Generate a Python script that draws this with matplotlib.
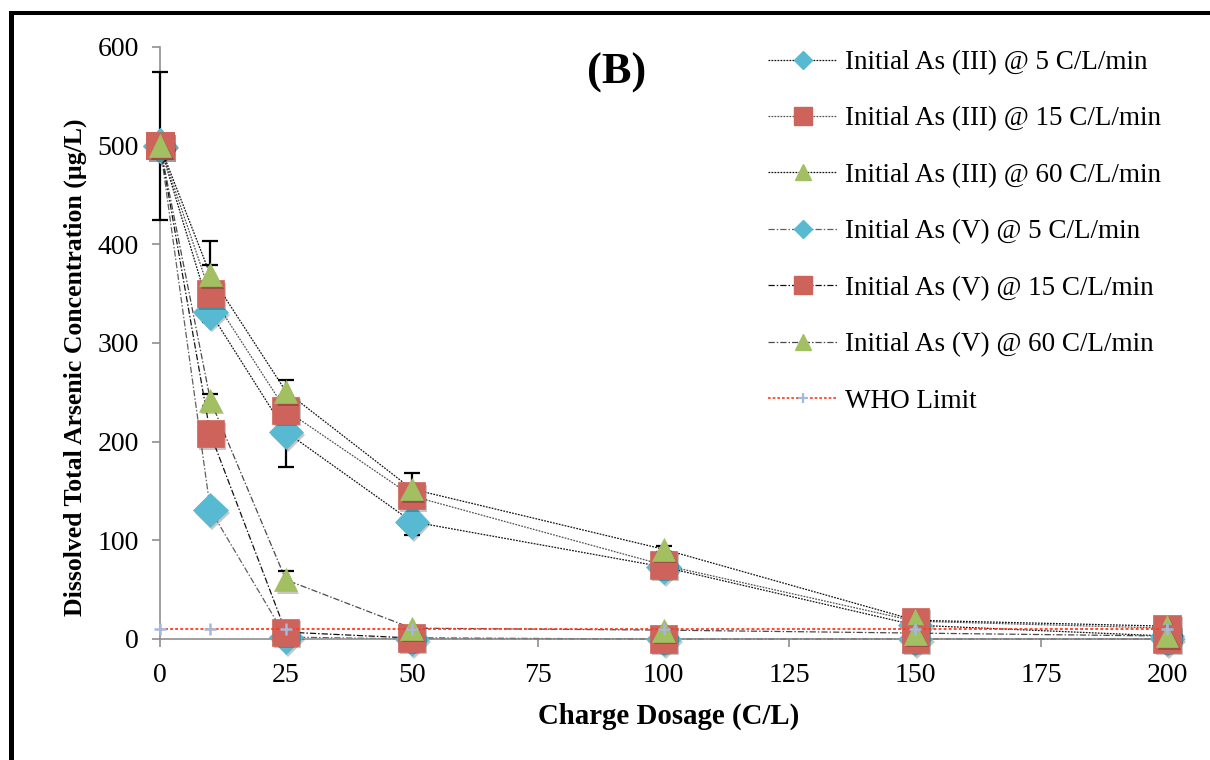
import matplotlib
matplotlib.use("Agg")
import matplotlib.pyplot as plt
from matplotlib.lines import Line2D
import matplotlib.patheffects as pe

# Charge dosage (C/L)
dosage = [0, 10, 25, 50, 100, 150, 200]

# Dissolved total arsenic (ug/L)
as3_5 = [500, 331, 210, 119, 73, 14, 3]
as3_15 = [500, 350, 232, 145, 75, 18, 11]
as3_60 = [500, 369, 251, 152, 91, 19, 13]
as5_5 = [500, 131, 2, 0, 0, 0, 0]
as5_15 = [500, 208, 7, 1, 0, 0, 0]
as5_60 = [500, 242, 60, 11, 9, 6, 3]
who_limit = [10, 10, 10, 10, 10, 10, 10]

# Standard deviations (0 = no bar shown)
err3_5 = [75, 0, 36, 14, 0, 0, 0]
err3_15 = [0, 29, 0, 0, 0, 0, 0]
err3_60 = [0, 34, 11, 16, 3, 0, 0]
err5_60 = [0, 6, 9, 0, 0, 0, 0]

labels = [
    "Initial As (III) @ 5 C/L/min",
    "Initial As (III) @ 15 C/L/min",
    "Initial As (III) @ 60 C/L/min",
    "Initial As (V) @ 5 C/L/min",
    "Initial As (V) @ 15 C/L/min",
    "Initial As (V) @ 60 C/L/min",
    "WHO Limit",
]

FONT = "Liberation Serif"
plt.rcParams["font.family"] = [FONT, "DejaVu Serif"]

BLUE = "#57b9d2"
RED = "#cd635b"
GREEN = "#a2c062"
PLUS = "#a6b8dc"

DOT = (0, (1.4, 1.0))
DASHDOT = (0, (5, 1.6, 1.2, 1.6))

series = [
    (as3_5, err3_5, "D", BLUE, 17.5, "#111111", DOT),
    (as3_15, err3_15, "s", RED, 19.5, "#505050", DOT),
    (as3_60, err3_60, "^", GREEN, 16.5, "#111111", DOT),
    (as5_5, None, "D", BLUE, 17.5, "#606060", DASHDOT),
    (as5_15, None, "s", RED, 19.5, "#111111", DASHDOT),
    (as5_60, err5_60, "^", GREEN, 16.5, "#4a4a4a", DASHDOT),
]

fig = plt.figure(figsize=(12.1, 7.6), dpi=100)
W, H = 1210.0, 760.0
ax = fig.add_axes([160 / W, 121 / H, (1167 - 160) / W, (639 - 47) / H])

shadow = [pe.SimplePatchShadow(offset=(1.5, -2.0), shadow_rgbFace="#000000", alpha=0.22), pe.Normal()]

# connecting lines
for vals, err, mk, col, ms, lcol, ls in series:
    ax.plot(dosage, vals, linestyle=ls, color=lcol, linewidth=0.9, zorder=2, clip_on=False)

# error bars
for vals, err, mk, col, ms, lcol, ls in series:
    if err is None:
        continue
    xs = [x for x, e in zip(dosage, err) if e > 0]
    ys = [v for v, e in zip(vals, err) if e > 0]
    es = [e for e in err if e > 0]
    ax.errorbar(xs, ys, yerr=es, fmt="none", ecolor="black", elinewidth=1.6,
                capsize=6, capthick=1.6, zorder=2.7, clip_on=False)

# markers
for i, (vals, err, mk, col, ms, lcol, ls) in enumerate(series):
    ax.plot(dosage, vals, linestyle="none", marker=mk, markersize=ms,
            markerfacecolor=col, markeredgecolor=col, markeredgewidth=0.5,
            zorder=3 + i * 0.1, clip_on=False, path_effects=shadow)

# WHO limit
ax.plot(dosage, who_limit, linestyle=(0, (1.6, 1.2)), color="#ff3b1f", linewidth=1.3,
        zorder=4, clip_on=False)
ax.plot(dosage, who_limit, linestyle="none", marker="+", markersize=8,
        markeredgewidth=1.8, color=PLUS, zorder=4.1, clip_on=False)

ax.set_xlim(0, 200)
ax.set_ylim(0, 600)
ax.set_xticks(range(0, 201, 25))
ax.set_yticks(range(0, 601, 100))
for s in ["top", "right"]:
    ax.spines[s].set_visible(False)
for s in ["left", "bottom"]:
    ax.spines[s].set_color("#8f8f8f")
    ax.spines[s].set_linewidth(1.2)
ax.tick_params(axis="both", direction="out", length=6, width=1.2, color="#8f8f8f",
               labelsize=20, labelcolor="black")
ax.tick_params(axis="y", pad=9)
ax.tick_params(axis="x", pad=11)

fig.text(669 / W, 1 - 716 / H, "Charge Dosage (C/L)", ha="center", va="center",
         fontsize=20.8, fontweight="bold")
fig.text(75 / W, 1 - 367 / H, "Dissolved Total Arsenic Concentration (\u00b5g/L)",
         ha="center", va="center", rotation=90, fontsize=18.5, fontweight="bold")
fig.text(617 / W, 1 - 73 / H, "(B)", ha="center", va="center", fontsize=32,
         fontweight="bold")

# legend
handles = []
for vals, err, mk, col, ms, lcol, ls in series:
    handles.append(Line2D([], [], linestyle=ls, color=lcol, linewidth=0.9, marker=mk,
                          markersize=ms * (0.55 if mk == "D" else 0.68),
                          markerfacecolor=col, markeredgecolor=col))
handles.append(Line2D([], [], linestyle=(0, (1.6, 1.2)), color="#ff3b1f", linewidth=1.2,
                      marker="+", markersize=7, markeredgewidth=1.6,
                      markeredgecolor=PLUS))
fig.legend(handles, labels, loc="upper left", bbox_to_anchor=(768 / W, 1 - 50 / H),
           frameon=False, fontsize=19.5, borderpad=0, borderaxespad=0,
           handlelength=2.55, handletextpad=0.28, labelspacing=1.16, numpoints=1)

# frame lines along the top and left edges of the figure
fig.add_artist(Line2D([11.5 / W, 1.0], [1 - 13 / H, 1 - 13 / H], transform=fig.transFigure,
                      color="black", linewidth=2.9, solid_capstyle="projecting"))
fig.add_artist(Line2D([11.5 / W, 11.5 / W], [0.0, 1 - 13 / H], transform=fig.transFigure,
                      color="black", linewidth=3.6, solid_capstyle="projecting"))

fig.savefig("out.png", dpi=100)
